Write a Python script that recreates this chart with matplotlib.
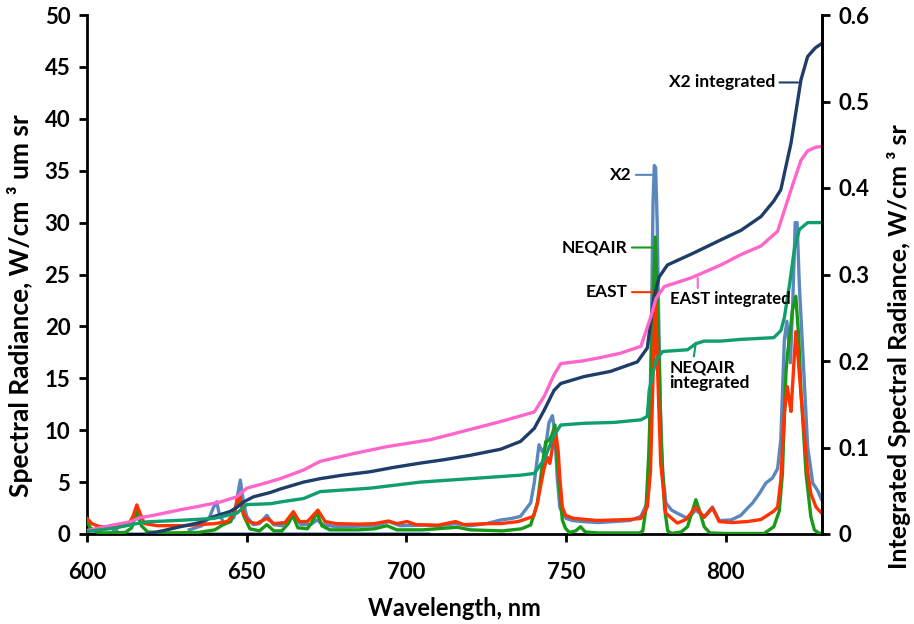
import matplotlib
matplotlib.use("Agg")
import matplotlib.pyplot as plt

plt.rcParams['font.family'] = ['Lato', 'DejaVu Sans']
plt.rcParams['font.weight'] = 'bold'

# ---------------- data ----------------
# X2 spectral radiance (W/cm3 um sr)
x2_wl = [632, 636, 638.5, 639.5, 640.6, 641.5, 643, 646, 647, 648, 649, 650, 652, 654,
         656.3, 658.4, 661, 664.7, 667, 670, 672, 674, 678, 685, 690, 694.5, 698, 705,
         710, 715.4, 720, 725, 729.5, 733, 735.7, 738.9, 740, 741.5, 742.6, 743.6, 744.6,
         745.7, 746.4, 747.2, 748, 748.8, 750, 752, 755, 760, 765, 770, 773.4, 775.4,
         776.0, 776.7, 777.2, 777.6, 778.0, 778.5, 778.9, 779.5, 780.2, 781.2, 783, 784.8,
         788, 790.6, 793.2, 795.8, 797.9, 801.6, 804.7, 806.5, 808.4, 810.5, 812.5, 814.6,
         816.2, 817.2, 818.3, 819.1, 820.2, 820.9, 821.7, 822.3, 823.0, 824, 825.6, 827.2,
         828.7, 830]
x2_val = [0.4, 0.8, 1.7, 2.5, 3.1, 1.8, 1.0, 1.6, 3.5, 5.2, 3.0, 1.7, 0.9, 1.0,
          1.8, 0.9, 0.8, 1.8, 0.9, 0.9, 1.35, 0.9, 0.7, 0.75, 0.8, 1.2, 0.8, 0.85,
          0.8, 1.0, 0.8, 1.0, 1.35, 1.5, 1.7, 3.0, 4.9, 8.6, 7.9, 8.4, 10.7,
          11.4, 9.9, 5.5, 2.6, 2.0, 1.5, 1.3, 1.2, 1.1, 1.2, 1.3, 1.7, 3.0,
          8.0, 20.0, 32.0, 35.5, 35.3, 30.0, 22.0, 12.0, 6.0, 3.0, 2.3, 2.0,
          1.5, 2.3, 1.67, 2.6, 1.3, 1.35, 1.8, 2.4, 3.0, 3.9, 4.9, 5.4,
          6.3, 9.1, 18.7, 20.5, 16.5, 21.9, 30.0, 30.0, 24.0, 18.0, 8.4, 4.9,
          4.2, 3.3]
# X2 zero-filled segment at the start of the range
x2_base_wl = [600, 608, 608.8, 609.6, 707]
x2_base_val = [0.0, 0.0, 0.9, 0.0, 0.0]

# EAST spectral radiance
east_wl = [600, 601.5, 604, 610, 613, 614.5, 615.6, 616.6, 618, 622, 630, 640, 644, 646,
           647.6, 649, 650.5, 653, 656.3, 658.5, 662, 664.6, 666.5, 669, 672.3, 674.5, 678,
           685, 690, 694.4, 697, 700.2, 703, 710, 715.4, 718, 725.7, 729.5, 735, 739.8, 741,
           742, 743, 744.1, 744.9, 745.8, 746.7, 747.5, 748, 748.8, 749.8, 752.4, 760, 770,
           773.4, 775.4, 776.4, 777.2, 777.9, 778.6, 779.6, 781.2, 784.8, 787.5, 790.6, 793.2,
           795.8, 797.9, 802, 806.8, 811, 813, 815, 816.2, 817.2, 818.3, 819.2, 819.8, 820.4,
           821.2, 821.9, 822.6, 823.5, 824.6, 825.6, 826.6, 828.2, 830]
east_val = [1.5, 1.0, 0.7, 0.7, 0.9, 1.8, 2.8, 2.0, 1.0, 0.8, 0.8, 1.0, 1.2, 2.0,
            3.8, 2.0, 1.2, 1.0, 1.5, 1.0, 1.1, 2.15, 1.2, 1.2, 2.3, 1.2, 1.0,
            0.95, 1.0, 1.25, 1.0, 1.2, 0.9, 0.85, 1.2, 0.9, 1.0, 1.0, 1.2, 1.7, 3.0,
            4.6, 6.2, 7.4, 6.8, 8.5, 9.9, 8.0, 5.5, 2.6, 1.8, 1.5, 1.3, 1.4,
            1.5, 2.6, 6.0, 15.0, 23.3, 16.0, 6.8, 2.0, 1.05, 1.4, 2.6, 1.6,
            2.5, 1.2, 1.1, 1.2, 1.4, 1.8, 2.2, 2.6, 5.2, 11.6, 14.2, 13.0, 11.8,
            16.0, 19.5, 17.0, 13.5, 9.5, 6.0, 3.9, 2.6, 2.0]

# NEQAIR spectral radiance
neq_wl = [600, 601, 603, 605, 612, 614, 615.6, 617, 619, 625, 635, 640, 642.6, 645, 646.5,
          647.8, 649, 651, 654, 656.3, 658.5, 661, 663, 664.4, 666, 669, 670.5, 672, 673.5,
          676, 685, 690, 693.9, 697, 705, 715.9, 720, 730, 736, 738.9, 741, 742.6, 743.6,
          744.6, 745.5, 746.5, 747.5, 748.8, 749.8, 751, 753, 754.5, 756, 760, 773, 774,
          775, 776, 777, 777.9, 778.8, 779.8, 780.8, 781.8, 783, 786, 788, 789.5, 790.6,
          791.8, 793.2, 795, 800, 812, 815, 816.7, 817.7, 818.8, 819.3, 820, 820.8, 821.9,
          822.8, 823.5, 825.1, 826.6, 827.7, 829, 830]
neq_val = [1.3, 0.6, 0.2, 0.1, 0.15, 0.6, 2.2, 0.8, 0.2, 0.1, 0.15, 0.4, 0.9, 1.2, 2.5,
           3.6, 1.8, 0.5, 0.3, 0.9, 0.3, 0.3, 1.0, 1.8, 0.6, 0.5, 1.2, 2.05, 0.8,
           0.4, 0.4, 0.5, 0.8, 0.4, 0.4, 0.65, 0.4, 0.3, 0.5, 0.87, 2.96, 6.8, 8.9,
           9.0, 9.5, 10.5, 6.0, 1.35, 0.55, 0.15, 0.3, 0.7, 0.2, 0.1, 0.1, 0.3,
           2.5, 8.5, 20.0, 28.6, 20.0, 8.5, 2.5, 0.3, 0.05, 0.2, 0.7, 2.2, 3.3,
           2.2, 0.7, 0.1, 0.05, 0.05, 0.7, 2.2, 5.8, 15.5, 17.4, 19.0, 21.5, 22.9,
           19.0, 13.9, 5.8, 1.67, 0.4, 0.1, 0.05]

# Integrated spectral radiance (W/cm3 sr), right axis
x2i_wl = [618.7, 624, 629.2, 635, 639.6, 644.8, 647, 649, 652.1, 657.4, 660.5, 667.8, 673,
          680, 688.7, 696, 704.4, 712, 720, 729.5, 735.7, 740, 743.1, 746.2, 748.3, 755.6,
          763.9, 772.3, 775.4, 777.5, 779.1, 781.7, 790, 798.4, 804.7, 811, 815, 817.2,
          820.4, 823.5, 825.6, 828, 830]
x2i_val = [0.0, 0.004, 0.0084, 0.013, 0.020, 0.026, 0.031, 0.037, 0.043, 0.048, 0.052,
           0.060, 0.064, 0.068, 0.072, 0.077, 0.082, 0.086, 0.091, 0.098, 0.107, 0.122,
           0.143, 0.166, 0.174, 0.182, 0.188, 0.199, 0.215, 0.274, 0.297, 0.311, 0.325,
           0.340, 0.351, 0.367, 0.385, 0.398, 0.452, 0.525, 0.552, 0.562, 0.567]

easti_wl = [600, 608.2, 613.5, 616.6, 620, 629.2, 635, 641.7, 646.9, 650, 655, 660.5, 667.8,
            673, 683.5, 693.9, 707.5, 718, 729.5, 740, 743.1, 746.2, 748.3, 755, 760.8, 767,
            773.4, 776.5, 778.1, 780.7, 789, 792.2, 798.4, 804.7, 811, 816.2, 820.4, 823.5,
            825.6, 828, 830]
easti_val = [0.004, 0.0104, 0.014, 0.019, 0.021, 0.028, 0.032, 0.037, 0.043, 0.053, 0.058,
             0.064, 0.074, 0.084, 0.093, 0.101, 0.109, 0.119, 0.130, 0.141, 0.159, 0.184,
             0.197, 0.200, 0.204, 0.209, 0.217, 0.251, 0.272, 0.286, 0.296, 0.301, 0.311,
             0.323, 0.333, 0.350, 0.398, 0.432, 0.443, 0.447, 0.448]

neqi_wl = [600, 608.2, 615.6, 618.7, 630, 639.6, 646.9, 650, 657.4, 660.5, 667.8, 673, 688.7,
           704.4, 720, 735.7, 740, 743.1, 746.2, 748.3, 755.6, 765, 773.4, 775.4, 776, 778.1,
           780.2, 788, 790.6, 793.2, 798.4, 804.7, 815, 817.2, 818.3, 820, 821.4, 823, 825.6,
           830]
neqi_val = [0.003, 0.0066, 0.012, 0.014, 0.016, 0.018, 0.024, 0.034, 0.035, 0.037, 0.041,
            0.049, 0.053, 0.060, 0.064, 0.068, 0.070, 0.086, 0.114, 0.126, 0.128, 0.129,
            0.132, 0.136, 0.166, 0.201, 0.211, 0.213, 0.220, 0.223, 0.223, 0.225, 0.227,
            0.235, 0.250, 0.290, 0.328, 0.352, 0.360, 0.360]

left_ticks = [0, 5, 10, 15, 20, 25, 30, 35, 40, 45, 50]
right_ticks = [0, 0.1, 0.2, 0.3, 0.4, 0.5, 0.6]
x_ticks = [600, 650, 700, 750, 800]

# ---------------- colours ----------------
c_x2 = '#5B87BF'
c_neq = '#189A18'
c_east = '#FF3300'
c_x2i = '#1F3D69'
c_easti = '#FF66CC'
c_neqi = '#109E6C'

fig = plt.figure(figsize=(9.14, 6.24), dpi=100)
ax = fig.add_axes([87/914, 90/624, (821.7-87)/914, (534-15)/624])
ax2 = ax.twinx()

lw = 2.4
ax.plot(x2_base_wl, x2_base_val, color=c_x2, lw=lw, zorder=2)
ax.plot(x2_wl, x2_val, color=c_x2, lw=lw, zorder=2)
ax.plot(neq_wl, neq_val, color=c_neq, lw=lw, zorder=3)
ax.plot(east_wl, east_val, color=c_east, lw=lw, zorder=4)

ax2.plot(x2i_wl, x2i_val, color=c_x2i, lw=lw)
ax2.plot(easti_wl, easti_val, color=c_easti, lw=lw)
ax2.plot(neqi_wl, neqi_val, color=c_neqi, lw=lw)

ax.set_xlim(600, 830)
ax.set_ylim(0, 50)
ax2.set_ylim(0, 0.6)
ax.set_xticks(x_ticks)
ax.set_yticks(left_ticks)
ax2.set_yticks(right_ticks)
ax2.set_yticklabels(['0' if t == 0 else f'{t:.1f}' for t in right_ticks])

for a in (ax, ax2):
    a.spines['top'].set_visible(False)
    for s in ('left', 'right', 'bottom'):
        a.spines[s].set_linewidth(2.0)
    a.tick_params(width=2, length=6, direction='out', labelsize=16)
ax2.spines['left'].set_visible(False)
ax2.spines['bottom'].set_visible(False)
ax.tick_params(axis='x', pad=14)
ax.tick_params(axis='y', pad=6)
ax2.tick_params(axis='y', pad=6)

ax.set_xlabel('Wavelength, nm', fontsize=17, fontweight='bold', labelpad=10)
ax.set_ylabel('Spectral Radiance, W/cm \u00b3 um sr', fontsize=19, fontweight='bold')
ax2.set_ylabel('Integrated Spectral Radiance, W/cm \u00b3 sr', fontsize=18, fontweight='bold')
ax.yaxis.set_label_coords((33 - 87) / 734.7, 0.44)
ax2.yaxis.set_label_coords((887 - 87) / 734.7, 0.362)

fs = 12.5
ax.annotate('X2', xy=(777.1, 34.6), xytext=(770.5, 34.6), ha='right', va='center',
            fontsize=fs, fontweight='bold',
            arrowprops=dict(arrowstyle='-', color=c_x2, lw=1.5, shrinkA=1, shrinkB=0,
                            relpos=(1, 0.5)))
ax.annotate('NEQAIR', xy=(778.0, 27.6), xytext=(769.3, 27.6), ha='right', va='center',
            fontsize=fs, fontweight='bold',
            arrowprops=dict(arrowstyle='-', color=c_neq, lw=1.5, shrinkA=1, shrinkB=0,
                            relpos=(1, 0.5)))
ax.annotate('EAST', xy=(778.0, 23.3), xytext=(769.3, 23.3), ha='right', va='center',
            fontsize=fs, fontweight='bold',
            arrowprops=dict(arrowstyle='-', color=c_east, lw=1.5, shrinkA=1, shrinkB=0,
                            relpos=(1, 0.5)))
ax2.annotate('EAST integrated', xy=(791.2, 0.296), xytext=(782.5, 0.272), ha='left',
             va='center', fontsize=12, fontweight='bold',
             arrowprops=dict(arrowstyle='-', color=c_easti, lw=1.5, shrinkA=0, shrinkB=0,
                             relpos=(0.23, 1)))
ax2.annotate('NEQAIR\nintegrated', xy=(790.6, 0.221), xytext=(782.3, 0.184), ha='left',
             va='center', fontsize=fs, fontweight='bold', linespacing=0.95,
             arrowprops=dict(arrowstyle='-', color=c_neqi, lw=1.5, shrinkA=0, shrinkB=0,
                             relpos=(0.3, 1)))
ax2.annotate('X2 integrated', xy=(822.6, 0.522), xytext=(815.5, 0.522), ha='right',
             va='center', fontsize=fs, fontweight='bold',
             arrowprops=dict(arrowstyle='-', color=c_x2i, lw=1.5, shrinkA=1, shrinkB=0,
                             relpos=(1, 0.5)))

fig.savefig('out.png', dpi=100)
